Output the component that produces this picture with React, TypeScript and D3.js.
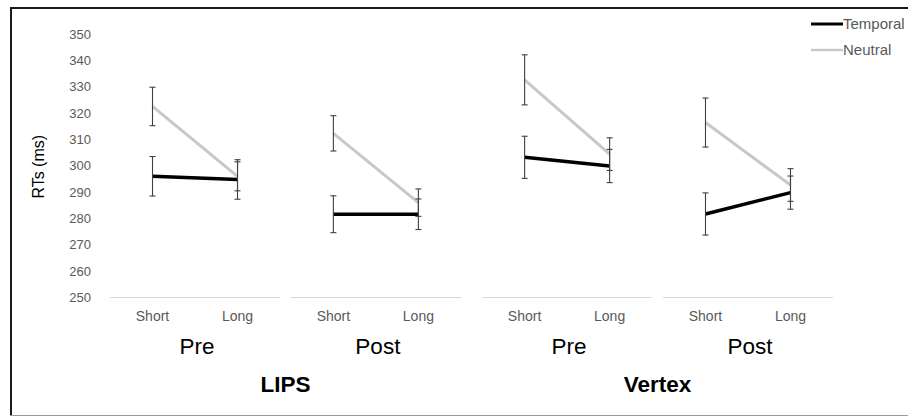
import { useEffect, useRef } from 'react';
import * as d3 from 'd3';

const sites = ['LIPS', 'Vertex'];
const sessions = ['Pre', 'Post'];
const intervals = ['Short', 'Long'];
const seriesNames = ['Temporal', 'Neutral'];
const yTicks = [250, 260, 270, 280, 290, 300, 310, 320, 330, 340, 350];

// order: LIPS Pre (Short, Long), LIPS Post, Vertex Pre, Vertex Post
const temporalMean = [296, 294.8, 281.6, 281.6, 303.2, 299.9, 281.7, 289.8];
const temporalErr = [7.5, 7.5, 7, 5.8, 8, 6.3, 8, 6.3];
const neutralMean = [322.5, 296, 312.3, 286, 332.6, 304.4, 316.4, 292.7];
const neutralErr = [7.3, 5.5, 6.7, 5.2, 9.5, 6.2, 9.3, 6.2];

const seriesColors = ['#000000', '#c8c8c8'];
const seriesWidths = [3.5, 3];

export default function App() {
  const svgRef = useRef<SVGSVGElement>(null);

  useEffect(() => {
    if (!svgRef.current) return;
    const width = 908;
    const height = 416;
    const font = '"Liberation Sans", Arial, sans-serif';

    const svg = d3.select(svgRef.current);
    svg.selectAll('*').remove();

    // frame
    svg.append('line').attr('x1', 11).attr('x2', width).attr('y1', 8).attr('y2', 8)
      .attr('stroke', '#1a1a1a').attr('stroke-width', 2);
    svg.append('line').attr('x1', 11).attr('x2', 11).attr('y1', 7).attr('y2', 415)
      .attr('stroke', '#1a1a1a').attr('stroke-width', 2);
    svg.append('line').attr('x1', 10).attr('x2', width).attr('y1', 415.5).attr('y2', 415.5)
      .attr('stroke', '#999999').attr('stroke-width', 1);

    const y = d3.scaleLinear().domain([250, 350]).range([297.5, 34]);

    const site = d3.scaleBand().domain(sites).range([110, 833]).paddingInner(0.057);
    const session = d3.scaleBand().domain(sessions).range([0, site.bandwidth()]).paddingInner(0.06);
    const interval = d3.scalePoint().domain(intervals).range([0, session.bandwidth()]).padding(0.5);

    // y axis labels
    svg.append('g').selectAll('text').data(yTicks).join('text')
      .attr('x', 91).attr('y', d => y(d)).attr('dy', '0.35em')
      .attr('text-anchor', 'end').attr('font-family', font).attr('font-size', 13)
      .attr('fill', '#595959').text(d => d);

    svg.append('text')
      .attr('transform', `translate(44,${(y(250) + y(350)) / 2 + 1}) rotate(-90)`)
      .attr('text-anchor', 'middle').attr('font-family', font).attr('font-size', 16)
      .attr('fill', '#000').text('RTs (ms)');

    const means = [temporalMean, neutralMean];
    const errs = [temporalErr, neutralErr];

    sites.forEach((s, si) => {
      const sx = site(s) as number;
      svg.append('text')
        .attr('x', sx + site.bandwidth() / 2).attr('y', 391.5)
        .attr('text-anchor', 'middle').attr('font-family', font).attr('font-size', 22.5)
        .attr('font-weight', 'bold').attr('fill', '#000').text(s);

      sessions.forEach((p, pi) => {
        const px = sx + (session(p) as number);
        const g = svg.append('g').attr('transform', `translate(${px},0)`);
        const idx = (si * 2 + pi) * 2;

        g.append('line').attr('x1', 0).attr('x2', session.bandwidth())
          .attr('y1', y(250)).attr('y2', y(250)).attr('stroke', '#d9d9d9').attr('stroke-width', 1);

        g.selectAll('text.cat').data(intervals).join('text').attr('class', 'cat')
          .attr('x', d => interval(d) as number).attr('y', 320.5)
          .attr('text-anchor', 'middle').attr('font-family', font).attr('font-size', 14)
          .attr('fill', '#595959').text(d => d);

        g.append('text')
          .attr('x', session.bandwidth() / 2 + 2).attr('y', 353.5)
          .attr('text-anchor', 'middle').attr('font-family', font).attr('font-size', 22.5)
          .attr('fill', '#000').text(p);

        means.forEach((m, k) => {
          const pts = intervals.map((iv, j) => ({ x: interval(iv) as number, v: m[idx + j] }));
          g.append('path').datum(pts)
            .attr('d', d3.line<{ x: number; v: number }>().x(d => d.x).y(d => y(d.v)))
            .attr('fill', 'none').attr('stroke', seriesColors[k]).attr('stroke-width', seriesWidths[k]);
        });

        means.forEach((m, k) => {
          intervals.forEach((iv, j) => {
            const cx = interval(iv) as number;
            const v = m[idx + j];
            const e = errs[k][idx + j];
            const eb = g.append('g').attr('stroke', '#404040').attr('stroke-width', 1.1);
            eb.append('line').attr('x1', cx).attr('x2', cx).attr('y1', y(v - e)).attr('y2', y(v + e));
            eb.append('line').attr('x1', cx - 3).attr('x2', cx + 3).attr('y1', y(v - e)).attr('y2', y(v - e));
            eb.append('line').attr('x1', cx - 3).attr('x2', cx + 3).attr('y1', y(v + e)).attr('y2', y(v + e));
          });
        });
      });
    });

    // legend
    const legend = svg.append('g').selectAll('g').data(seriesNames).join('g')
      .attr('transform', (_d, i) => `translate(811,${24 + i * 26})`);
    legend.append('line').attr('x1', 0).attr('x2', 32).attr('y1', 0).attr('y2', 0)
      .attr('stroke', (_d, i) => seriesColors[i]).attr('stroke-width', (_d, i) => seriesWidths[i] - 0.5);
    legend.append('text').attr('x', 32).attr('y', 0).attr('dy', '0.35em')
      .attr('font-family', font).attr('font-size', 15).attr('fill', '#595959').text(d => d);
  }, []);

  return (
    <svg ref={svgRef} width={908} height={416}
      style={{ position: 'fixed', left: 0, top: 0, background: '#fff', display: 'block' }} />
  );
}
